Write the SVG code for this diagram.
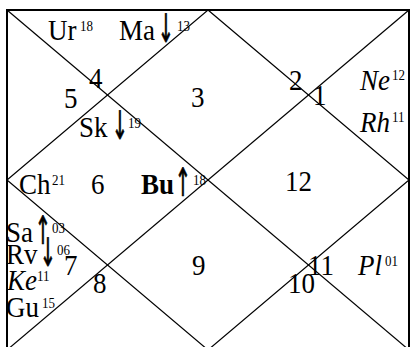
<svg xmlns="http://www.w3.org/2000/svg" width="420" height="347" viewBox="0 0 420 347">
<style>
.ln{stroke:#000;stroke-width:1.2;fill:none}
.fr{stroke:#000;stroke-width:2;fill:none}
text{font-family:"Liberation Serif","Times New Roman",serif;font-size:27px;fill:#000}
.s{font-size:13px}
.i{font-style:italic}
.b{font-weight:bold}
.a{text-anchor:middle;font-family:"DejaVu Sans",sans-serif;font-size:27px;stroke:#000;stroke-width:0.5}
</style>
<rect width="420" height="347" fill="#fff"/>
<g id="connectors">
<rect class="fr" x="7" y="10" width="402" height="340"/>
<line class="ln" x1="7" y1="10" x2="409" y2="350"/>
<line class="ln" x1="409" y1="10" x2="7" y2="350"/>
<polygon class="ln" points="208,10 409,180 208,350 7,180"/>
</g>
<g transform="scale(1,1.08)">
<g id="house1"><text x="313" y="97.22">1</text><text class="i" x="360" y="83.33">Ne</text><text class="s" x="392" y="74.5">12</text><text class="i" x="360" y="122.22">Rh</text><text class="s" x="392" y="113.4">11</text></g>
<g id="house2"><text x="289" y="83.33">2</text></g>
<g id="house3"><text x="191" y="99.07">3</text></g>
<g id="house4"><text x="89" y="81.48">4</text><text x="48" y="37.04">Ur</text><text class="s" x="80" y="28.7">18</text><text x="119" y="37.04">Ma</text><text class="s" x="177" y="28.7">13</text></g>
<g id="house5"><text x="64" y="100">5</text><text x="79" y="126.85">Sk</text><text class="s" x="128" y="118.5">19</text></g>
<g id="house6"><text x="91" y="179.63">6</text><text x="19" y="179.63">Ch</text><text class="s" x="52" y="171.3">21</text><text class="b" x="141" y="179.63">Bu</text><text class="s" x="193" y="171.3">18</text></g>
<g id="house7"><text x="64" y="254.63">7</text><text x="6" y="224.07">Sa</text><text class="s" x="52" y="215.7">03</text><text x="6" y="244.44">Rv</text><text class="s" x="57" y="236.1">06</text><text class="i" x="7" y="268.52">Ke</text><text class="s" x="37" y="260.2">11</text><text x="6" y="293.52">Gu</text><text class="s" x="42" y="285.2">15</text></g>
<g id="house8"><text x="93" y="271.3">8</text></g>
<g id="house9"><text x="192" y="254.63">9</text></g>
<g id="house10"><text x="288" y="271.3">10</text></g>
<g id="house11"><text x="308" y="254.63">11</text><text class="i" x="358" y="254.63">Pl</text><text class="s" x="385" y="246.3">01</text></g>
<g id="house12"><text x="285" y="176.85">12</text></g>
</g>
<g id="arrows">
<text class="a" transform="translate(166,42) scale(0.72,1.45)">↓</text>
<text class="a" transform="translate(120,139) scale(0.72,1.45)">↓</text>
<text class="a" transform="translate(183,196) scale(0.72,1.45)">↑</text>
<text class="a" transform="translate(43,244) scale(0.72,1.45)">↑</text>
<text class="a" transform="translate(48,266) scale(0.72,1.45)">↓</text>
</g>
</svg>
